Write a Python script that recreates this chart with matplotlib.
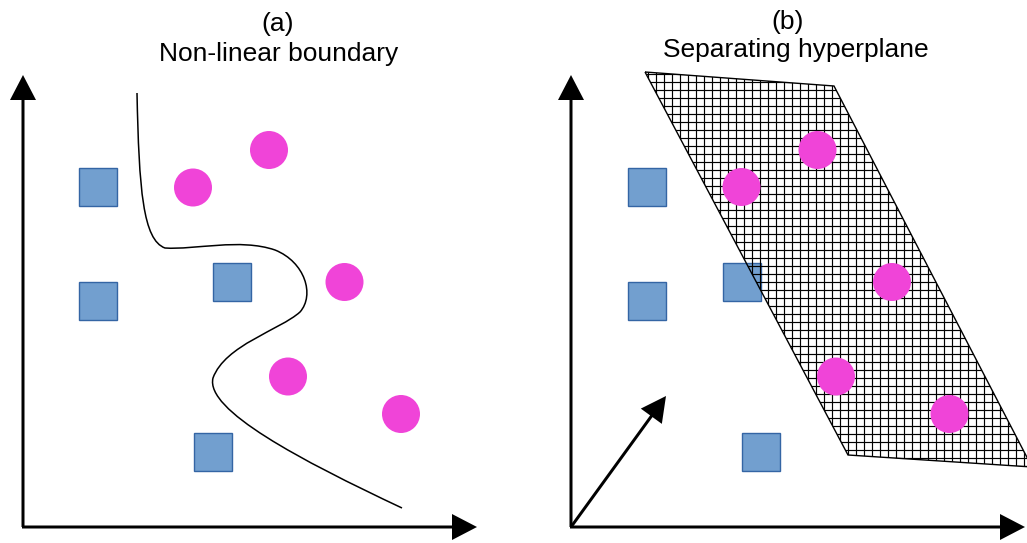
import numpy as np
import matplotlib
matplotlib.use("Agg")
import matplotlib.pyplot as plt
from matplotlib.patches import Polygon, Rectangle, Circle, PathPatch
from matplotlib.path import Path

# class positions (pixel space, y grows downwards)
squares_a = [(98, 187), (98, 301), (231.5, 282), (212.5, 452)]
circles_a = [(269, 150), (193, 187.5), (344.5, 282), (288, 376.5), (401, 414)]
squares_b = [(647, 187), (647, 301), (741.5, 282), (760.5, 452)]
circles_b = [(817.5, 150), (741.5, 187), (892, 282), (836, 376.5), (949.5, 414)]

# non-linear decision boundary (bezier control points)
boundary = [(137, 93),
            (139, 190), (143, 240), (165, 248),
            (195, 250), (240, 238), (275, 250),
            (305, 262), (315, 295), (300, 312),
            (280, 330), (225, 345), (213, 378),
            (205, 410), (300, 460), (402, 508)]

# separating plane corners
plane = [(645, 72), (834, 86), (1032, 467), (848, 455)]

titles = ["(a)", "Non-linear boundary", "(b)", "Separating hyperplane"]

SQ = 38       # square side
R = 19        # circle radius
SQ_FILL = "#729fcf"
SQ_EDGE = "#3465a4"
DOT = "#f044d8"
FS = 19

plt.rcParams['font.family'] = ['Liberation Sans', 'DejaVu Sans']

fig = plt.figure(figsize=(10.27, 5.43), dpi=100)
ax = fig.add_axes([0, 0, 1, 1])
ax.set_xlim(0, 1027)
ax.set_ylim(543, 0)
ax.set_aspect('equal')
ax.axis('off')


def arrow(x0, y0, x1, y1):
    ax.arrow(x0, y0, x1 - x0, y1 - y0, width=3, head_width=26, head_length=25,
             length_includes_head=True, color='black', lw=0, zorder=5)


# axes of both panels
arrow(23, 527, 23, 75)
arrow(22, 527, 477, 527)
arrow(571, 527, 571, 75)
arrow(570, 527, 1025, 527)
arrow(571, 527, 666, 396)

for x, y in squares_a + squares_b:
    ax.add_patch(Rectangle((x - SQ / 2, y - SQ / 2), SQ, SQ, facecolor=SQ_FILL,
                           edgecolor=SQ_EDGE, lw=1, zorder=2))

# boundary curve
codes = [Path.MOVETO] + [Path.CURVE4] * (len(boundary) - 1)
ax.add_patch(PathPatch(Path(boundary, codes), facecolor='none',
                       edgecolor='black', lw=1.1, zorder=3))

# meshed hyperplane
poly = Polygon(plane, closed=True, facecolor='none', edgecolor='black',
               lw=1.0, zorder=4)
ax.add_patch(poly)
step = 8
for gx in np.arange(640.3, 1040, step):
    ln, = ax.plot([gx, gx], [60, 480], color='black', lw=0.85, zorder=3)
    ln.set_clip_path(poly)
for gy in np.arange(65.7, 480, step):
    ln, = ax.plot([630, 1040], [gy, gy], color='black', lw=0.85, zorder=3)
    ln.set_clip_path(poly)

for x, y in circles_a + circles_b:
    ax.add_patch(Circle((x, y), R, facecolor=DOT, edgecolor='none', zorder=6))

ax.text(278, 31, titles[0], ha='center', va='baseline', fontsize=FS)
ax.text(278.5, 60.5, titles[1], ha='center', va='baseline', fontsize=FS)
ax.text(788, 29, titles[2], ha='center', va='baseline', fontsize=FS)
ax.text(796, 57, titles[3], ha='center', va='baseline', fontsize=FS)

fig.savefig("out.png", dpi=100)
